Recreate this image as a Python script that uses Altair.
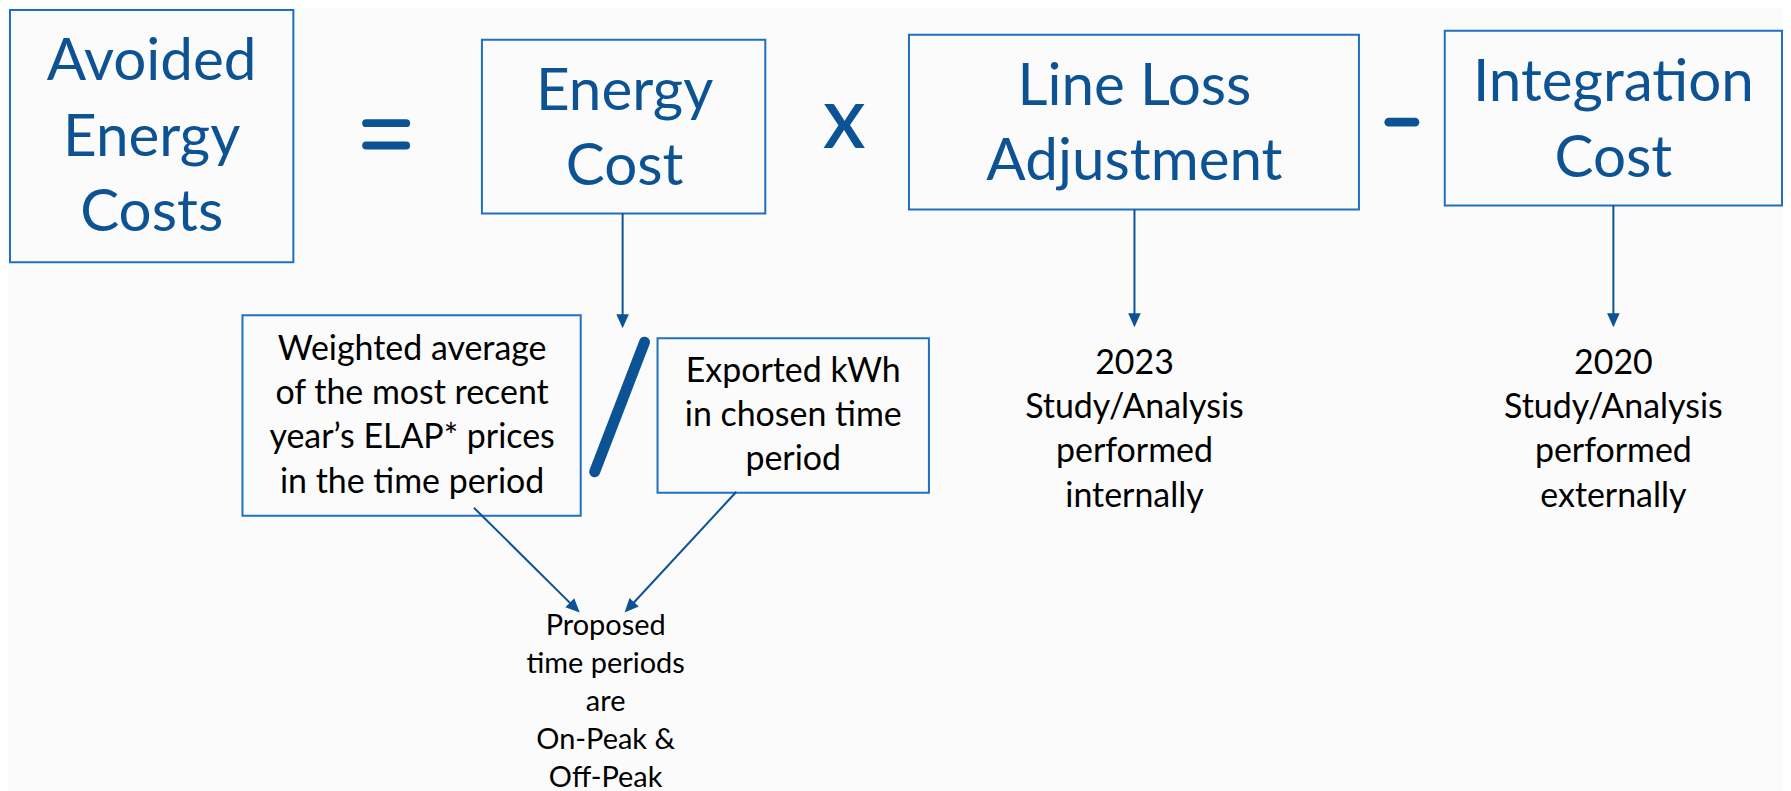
import math
import altair as alt
import pandas as pd

# ---------------- data (reference pixel coordinates) ----------------
W, H = 1791, 791
TEXT_BLUE = "#0d5394"
BOX_BLUE = "#1f70c1"
DARK = "#0b5394"

# boxes
box_names = ["Avoided", "EnergyCost", "LineLoss", "Integration", "Weighted", "Exported"]
box_x1 = [10, 483, 911, 1448, 243, 659]
box_x2 = [294, 767, 1362, 1786, 582, 931]
box_y1 = [7, 37, 32, 28, 313, 336]
box_y2 = [260, 211, 207, 203, 514, 491]

# big blue labels
big_text = ["Avoided\nEnergy\nCosts", "Energy\nCost", "Line Loss\nAdjustment", "Integration\nCost"]
big_x = [152, 626, 1137, 1617]
big_y = [77, 107, 102, 98]

# medium black labels
med_text = [
    "Weighted average\nof the most recent\nyear\u2019s ELAP* prices\nin the time period",
    "Exported kWh\nin chosen time\nperiod",
    "2023\nStudy/Analysis\nperformed\ninternally",
    "2020\nStudy/Analysis\nperformed\nexternally",
]
med_x = [413, 795, 1137, 1617]
med_y = [358, 380, 372, 372]

# small black label
small_text = ["Proposed\ntime periods\nare\nOn-Peak &\nOff-Peak"]
small_x = [607]
small_y = [634]

# operator "X"
op_text = ["X"]
op_x = [846]
op_y = [145]

# operator bars ("=" and "-")
bar_x1 = [367, 367, 1392]
bar_x2 = [407, 407, 1418]
bar_y = [120.5, 143, 119.5]
bar_w = [8, 8, 9]

# slash
slash_x1, slash_y1, slash_x2, slash_y2 = [646], [340], [596], [470]

# arrows: start -> tip
arr_x1 = [624, 1137, 1617, 475, 738]
arr_y1 = [211, 207, 203, 506, 490]
arr_x2 = [624, 1137, 1617, 581, 626]
arr_y2 = [326, 325, 325, 611, 611]

# ---------------- tables ----------------
boxes = pd.DataFrame({"name": box_names, "x1": box_x1, "x2": box_x2, "y1": box_y1, "y2": box_y2})
big = pd.DataFrame({"t": big_text, "x": big_x, "y": big_y})
med = pd.DataFrame({"t": med_text, "x": med_x, "y": med_y})
small = pd.DataFrame({"t": small_text, "x": small_x, "y": small_y})
ops = pd.DataFrame({"t": op_text, "x": op_x, "y": op_y})
bars = pd.DataFrame({"x1": bar_x1, "x2": bar_x2, "y": bar_y, "w": bar_w})
slash = pd.DataFrame({"x1": slash_x1, "y1": slash_y1, "x2": slash_x2, "y2": slash_y2})

HEAD = 14.0
rows = []
for a, b, c, d in zip(arr_x1, arr_y1, arr_x2, arr_y2):
    dx, dy = c - a, d - b
    L = math.hypot(dx, dy)
    ux, uy = dx / L, dy / L
    ang = math.degrees(math.atan2(-dx, dy)) % 360
    rows.append({"x1": a, "y1": b, "x2": c - ux * (HEAD - 2), "y2": d - uy * (HEAD - 2),
                 "tx": c, "ty": d, "ang": ang})
arrows = pd.DataFrame(rows)

xs = alt.Scale(domain=[8, W - 8], range=[0, W - 16], nice=False, zero=False)
ys = alt.Scale(domain=[8, H - 8], range=[0, H - 16], nice=False, zero=False)


def X(f):
    return alt.X(f, type="quantitative", scale=xs, axis=None)


def Y(f):
    return alt.Y(f, type="quantitative", scale=ys, axis=None)


box_layer = alt.Chart(boxes).mark_rect(fill="white", fillOpacity=0, stroke=BOX_BLUE, strokeWidth=2).encode(
    x=X("x1"), x2="x2", y=Y("y1"), y2="y2")

FONT = "Lato"

big_layer = alt.Chart(big).mark_text(font=FONT, fontSize=58.5, lineHeight=76, lineBreak="\n",
                                     align="center", baseline="alphabetic", color=TEXT_BLUE).encode(
    x=X("x"), y=Y("y"), text="t")

med_layer = alt.Chart(med).mark_text(font=FONT, fontSize=34, lineHeight=44.3, lineBreak="\n",
                                     align="center", baseline="alphabetic", color="#000000").encode(
    x=X("x"), y=Y("y"), text="t")

small_layer = alt.Chart(small).mark_text(font=FONT, fontSize=29, lineHeight=38, lineBreak="\n",
                                         align="center", baseline="alphabetic", color="#000000").encode(
    x=X("x"), y=Y("y"), text="t")

op_layer = alt.Chart(ops).mark_text(font=FONT, fontSize=62, fontWeight="bold",
                                    align="center", baseline="alphabetic", color=DARK).encode(
    x=X("x"), y=Y("y"), text="t")

bar_layer = alt.Chart(bars).mark_rule(color=DARK, strokeCap="round").encode(
    x=X("x1"), x2="x2", y=Y("y"), strokeWidth=alt.StrokeWidth("w:Q", scale=None))

slash_layer = alt.Chart(slash).mark_rule(color=DARK, strokeWidth=11, strokeCap="round").encode(
    x=X("x1"), y=Y("y1"), x2="x2", y2="y2")

arrow_lines = alt.Chart(arrows).mark_rule(color=DARK, strokeWidth=2).encode(
    x=X("x1"), y=Y("y1"), x2="x2", y2="y2")

arrow_heads = alt.Chart(arrows).mark_point(
    shape="M0,0 L-0.45,-1 L0.45,-1 Z", filled=True, color=DARK, opacity=1, size=4 * HEAD * HEAD,
    strokeWidth=0).encode(
    x=X("tx"), y=Y("ty"), angle=alt.Angle("ang:Q", scale=None))

chart = alt.layer(
    box_layer, big_layer, med_layer, small_layer, op_layer, bar_layer, slash_layer, arrow_lines, arrow_heads
).properties(width=W - 16, height=H - 16, padding=0, background="#fbfbfb").configure_view(stroke=None)

chart.save("out.html", embed_options={"renderer": "svg", "actions": False})
